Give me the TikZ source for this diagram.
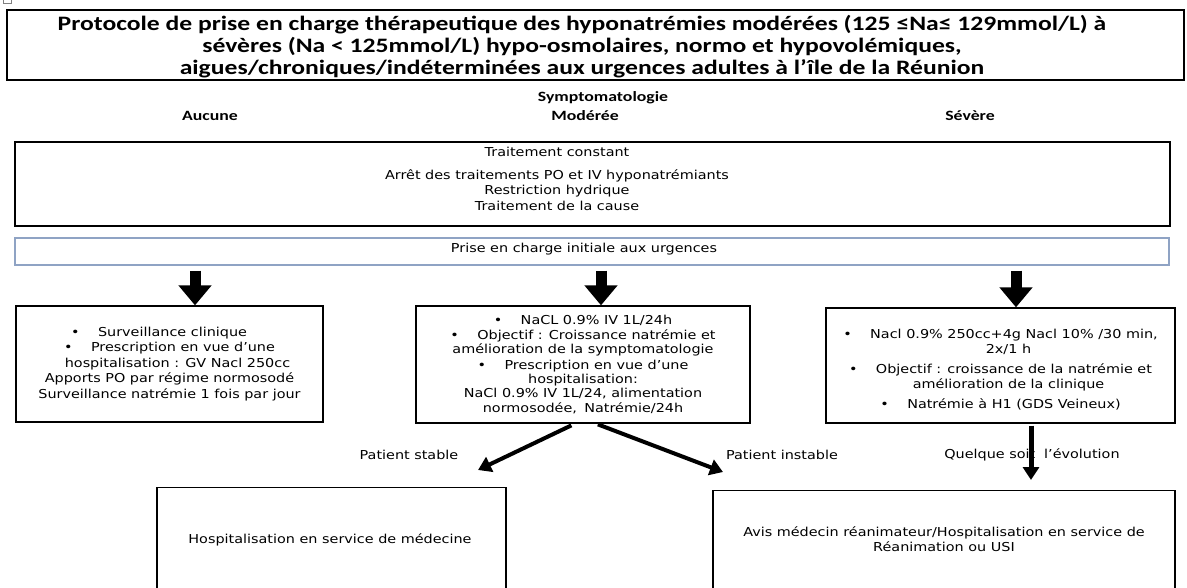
\documentclass[tikz,border=0pt]{standalone}
\usepackage{fontspec}
\setmainfont[FakeStretch=1.17]{DejaVu Sans}
\newfontfamily\calibri[FakeStretch=1.25]{Carlito}
\usetikzlibrary{arrows.meta}
\usetikzlibrary{positioning}
\definecolor{bleuword}{RGB}{143,163,196}
\tikzset{
  cadre/.style={draw,line width=1.3pt,inner sep=0pt},
  petit/.style={font=\fontsize{12.3}{15.6}\selectfont,align=center,inner sep=0pt},
  titre/.style={font=\calibri\bfseries\fontsize{20.5}{22}\selectfont,align=center,inner sep=0pt},
  entete/.style={font=\calibri\bfseries\fontsize{14.2}{18}\selectfont,inner sep=0pt},
  grosse/.style={line width=11pt,-{Triangle[width=32pt,length=20pt]}},
  fleche/.style={line width=4pt,-{Triangle[width=16pt,length=13pt]}},
}

\begin{document}
\begin{tikzpicture}[x=1pt,y=-1pt]
\useasboundingbox (0,0) rectangle (1187,587);
\clip (0,0) rectangle (1187,587);
% marque en haut a gauche
\draw[gray,line width=0.8pt] (3,0) -- (3,3) -- (11,3) -- (11,0);

% titre
\node[cadre,line width=1.8pt,minimum width=1177,minimum height=70] (titre) at (595.5,45) {};
\node[titre] (titretxt) at (582,47) {Protocole de prise en charge thérapeutique des hyponatrémies modérées (125 ≤Na≤ 129mmol/L) à\\
sévères (Na < 125mmol/L) hypo-osmolaires, normo et hypovolémiques,\\
aigues/chroniques/indéterminées aux urgences adultes à l’île de la Réunion};

% symptomatologie
\node[entete] (sympto) at (603,98) {Symptomatologie};
\node[entete] (aucunetxt) at (210,116) {Aucune};
\node[entete] (modtxt) at (585,116) {Modérée};
\node[entete] (sevtxt) at (970,116) {Sévère};

% traitement constant
\node[cadre,minimum width=1155,minimum height=84] (constant) at (592.5,184) {};
\node[petit] (constanttxt) at (557,179) {Traitement constant\\[7pt]
Arrêt des traitements PO et IV hyponatrémiants\\
Restriction hydrique\\
Traitement de la cause};

% prise en charge initiale
\node[cadre,draw=bleuword,line width=1.2pt,minimum width=1154,minimum height=27] (prise) at (592,251.5) {};
\node[petit] (prisetxt) at (584,249) {Prise en charge initiale aux urgences};

% les trois cas
\node[cadre,minimum width=307,minimum height=116] (aucune) at (169.5,364) {};
\node[petit] (aucunebox) at (aucune) {•\hspace{1.5em}Surveillance clinique\hspace*{1.7em}\\
•\hspace{1.5em}Prescription en vue d’une\hspace*{1.1em}\\
\hspace{1.3em}hospitalisation : GV Nacl 250cc\\
Apports PO par régime normosodé\\
Surveillance natrémie 1 fois par jour};

\node[cadre,minimum width=334,minimum height=117] (moderee) at (583,364.5) {};
\node[petit,font=\fontsize{12.3}{14.3}\selectfont] (modereebox) at (moderee) {•\hspace{1.5em}NaCL 0.9\% IV 1L/24h\\
•\hspace{1.5em}Objectif : Croissance natrémie et\\
amélioration de la symptomatologie\\[1.5pt]
•\hspace{1.5em}Prescription en vue d’une\\
hospitalisation:\\
NaCl 0.9\% IV 1L/24, alimentation\\
normosodée,\hspace{0.6em}Natrémie/24h};

\node[cadre,minimum width=349,minimum height=115] (severe) at (1000.5,365.5) {};
\node[petit] (severebox) at ([yshift=-4]severe) {•\hspace{1.5em}Nacl 0.9\% 250cc+4g Nacl 10\% /30 min,\\
\hspace{1.3em}2x/1 h\\[4pt]
•\hspace{1.5em}Objectif : croissance de la natrémie et\\
\hspace{1.3em}amélioration de la clinique\\[4pt]
•\hspace{1.5em}Natrémie à H1 (GDS Veineux)};

% orientation
\node[cadre,minimum width=349,minimum height=140,anchor=north] (hosp) at (331.5,487) {};
\node[petit] (hosptxt) at (330,540) {Hospitalisation en service de médecine};
\node[cadre,minimum width=462,minimum height=140,anchor=north] (avis) at (944,490) {};
\node[petit] (avistxt) at (944,539) {Avis médecin réanimateur/Hospitalisation en service de\\
Réanimation ou USI};

\node[petit] (stable) at (409,455) {Patient stable};
\node[petit] (instable) at (782,455) {Patient instable};
\node[petit] (evolution) at (1032,455) {Quelque soit\hspace{0.35em} l’évolution};

% fleches
\coordinate (f1) at (195,0);
\coordinate (f2) at (601,0);
\coordinate (f3) at (1016,0);
\coordinate (f4) at (1031,0);
\coordinate (versstable) at (478,470);
\coordinate (versinstable) at (723,472);
\draw[grosse,shorten <=5pt] (prise.south -| f1) -- (aucune.north -| f1);
\draw[grosse,shorten <=5pt] (prise.south -| f2) -- (moderee.north -| f2);
\draw[grosse,shorten <=5pt] (prise.south -| f3) -- (severe.north -| f3);
\draw[fleche,shorten <=4pt] ([xshift=-8pt]moderee.south) -- (versstable);
\draw[fleche,shorten <=2pt] ([xshift=13pt]moderee.south) -- (versinstable);
\draw[fleche,line width=5pt,shorten <=2pt,shorten >=10pt] (severe.south -| f4) -- (avis.north -| f4);
\end{tikzpicture}
\end{document}
